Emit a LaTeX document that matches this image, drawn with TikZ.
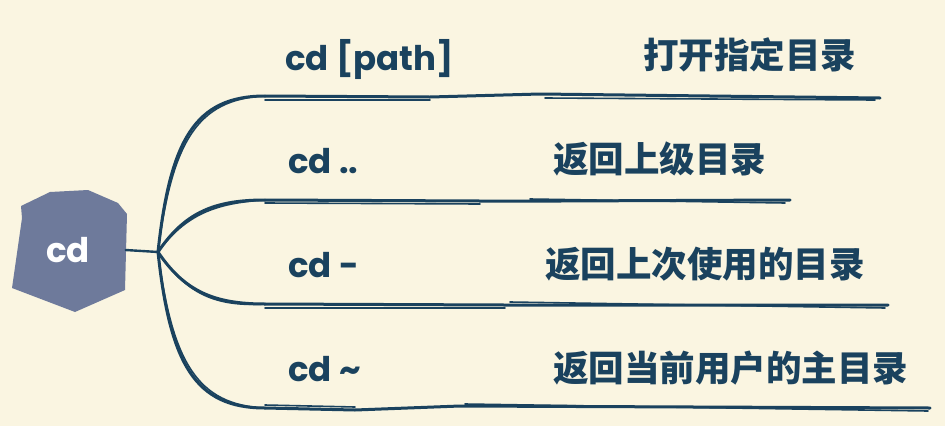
\documentclass[tikz,border=0pt]{standalone}
\usepackage{fontspec}
\setmainfont{Poppins}
\newfontfamily\cjk{Noto Sans CJK SC}
\definecolor{bg}{HTML}{FAF5E1}
\definecolor{ink}{HTML}{1A425E}
\definecolor{nodefill}{HTML}{6E7A9B}
\begin{document}
\begin{tikzpicture}[x=1pt,y=-1pt,
  branch/.style={draw=ink,line width=3pt,line cap=round},
  thin/.style={draw=ink,line width=1.6pt,line cap=round},
  cmd/.style={anchor=base west,text=ink,font=\fontsize{34}{40}\selectfont\bfseries,inner sep=0pt},
  desc/.style={anchor=base west,text=ink,font=\cjk\fontsize{35.5}{40}\selectfont\bfseries,inner sep=0pt},
  root/.style={minimum width=115pt,minimum height=122pt,inner sep=0pt,text=white,font=\fontsize{34}{40}\selectfont\bfseries}]
\fill[bg] (0,0) rectangle (945,426);
\useasboundingbox (0,0) rectangle (945,426);
% root node
\fill[nodefill] (21,206) -- (50,192) -- (88,190) -- (118,203) -- (127,214) -- (125,290) -- (75,312) -- (12,288) -- (22,218) -- cycle;
\node[root] (cd) at (68,250) {cd};
\coordinate (hub) at (158,252);
\coordinate (s1) at (265,96);
\coordinate (s2) at (265,200);
\coordinate (s3) at (265,304);
\coordinate (s4) at (265,408);
\draw[branch,line width=2.4pt] (cd.east) -- (hub);
% curves (double hand-drawn)
\draw[branch] (hub) .. controls (170,140) and (195,96) .. (s1);
\draw[thin] (hub) .. controls (172,142) and (197,99) .. (s1);
\draw[branch] (hub) .. controls (185,212) and (215,200) .. (s2);
\draw[thin] (hub) .. controls (186,214) and (216,203) .. (s2);
\draw[branch] (hub) .. controls (185,292) and (215,304) .. (s3);
\draw[thin] (hub) .. controls (186,294) and (216,307) .. (s3);
\draw[branch] (hub) .. controls (170,364) and (195,408) .. (s4);
\draw[thin] (hub) .. controls (172,362) and (197,405) .. (s4);
% horizontal lines
\draw[branch] (s1) -- (430,97) -- (540,94) -- (880,98);
\draw[thin] (265,100) -- (430,100) (545,98) -- (875,100);
\draw[branch] (s2) -- (480,201) -- (560,201) -- (790,200);
\draw[thin] (265,203) -- (480,204) (530,199) -- (785,203);
\draw[branch] (s3) -- (505,305) -- (888,305);
\draw[thin] (265,308) -- (505,308) (510,302) -- (885,308);
\draw[branch] (s4) -- (355,410) -- (460,406) -- (930,408);
\draw[thin] (265,405) -- (355,407) (465,404) -- (928,411);
% labels
\node[cmd] (c1) at (285,70) {cd [path]};
\node[desc] (d1) at (643,68) {打开指定目录};
\node[cmd] (c2) at (288,173) {cd ..};
\node[desc] (d2) at (553,172) {返回上级目录};
\node[cmd] (c3) at (288,277) {cd -};
\node[desc] (d3) at (545,277) {返回上次使用的目录};
\node[cmd] (c4) at (288,381) {cd \textasciitilde};
\node[desc] (d4) at (553,381) {返回当前用户的主目录};
\end{tikzpicture}
\end{document}
